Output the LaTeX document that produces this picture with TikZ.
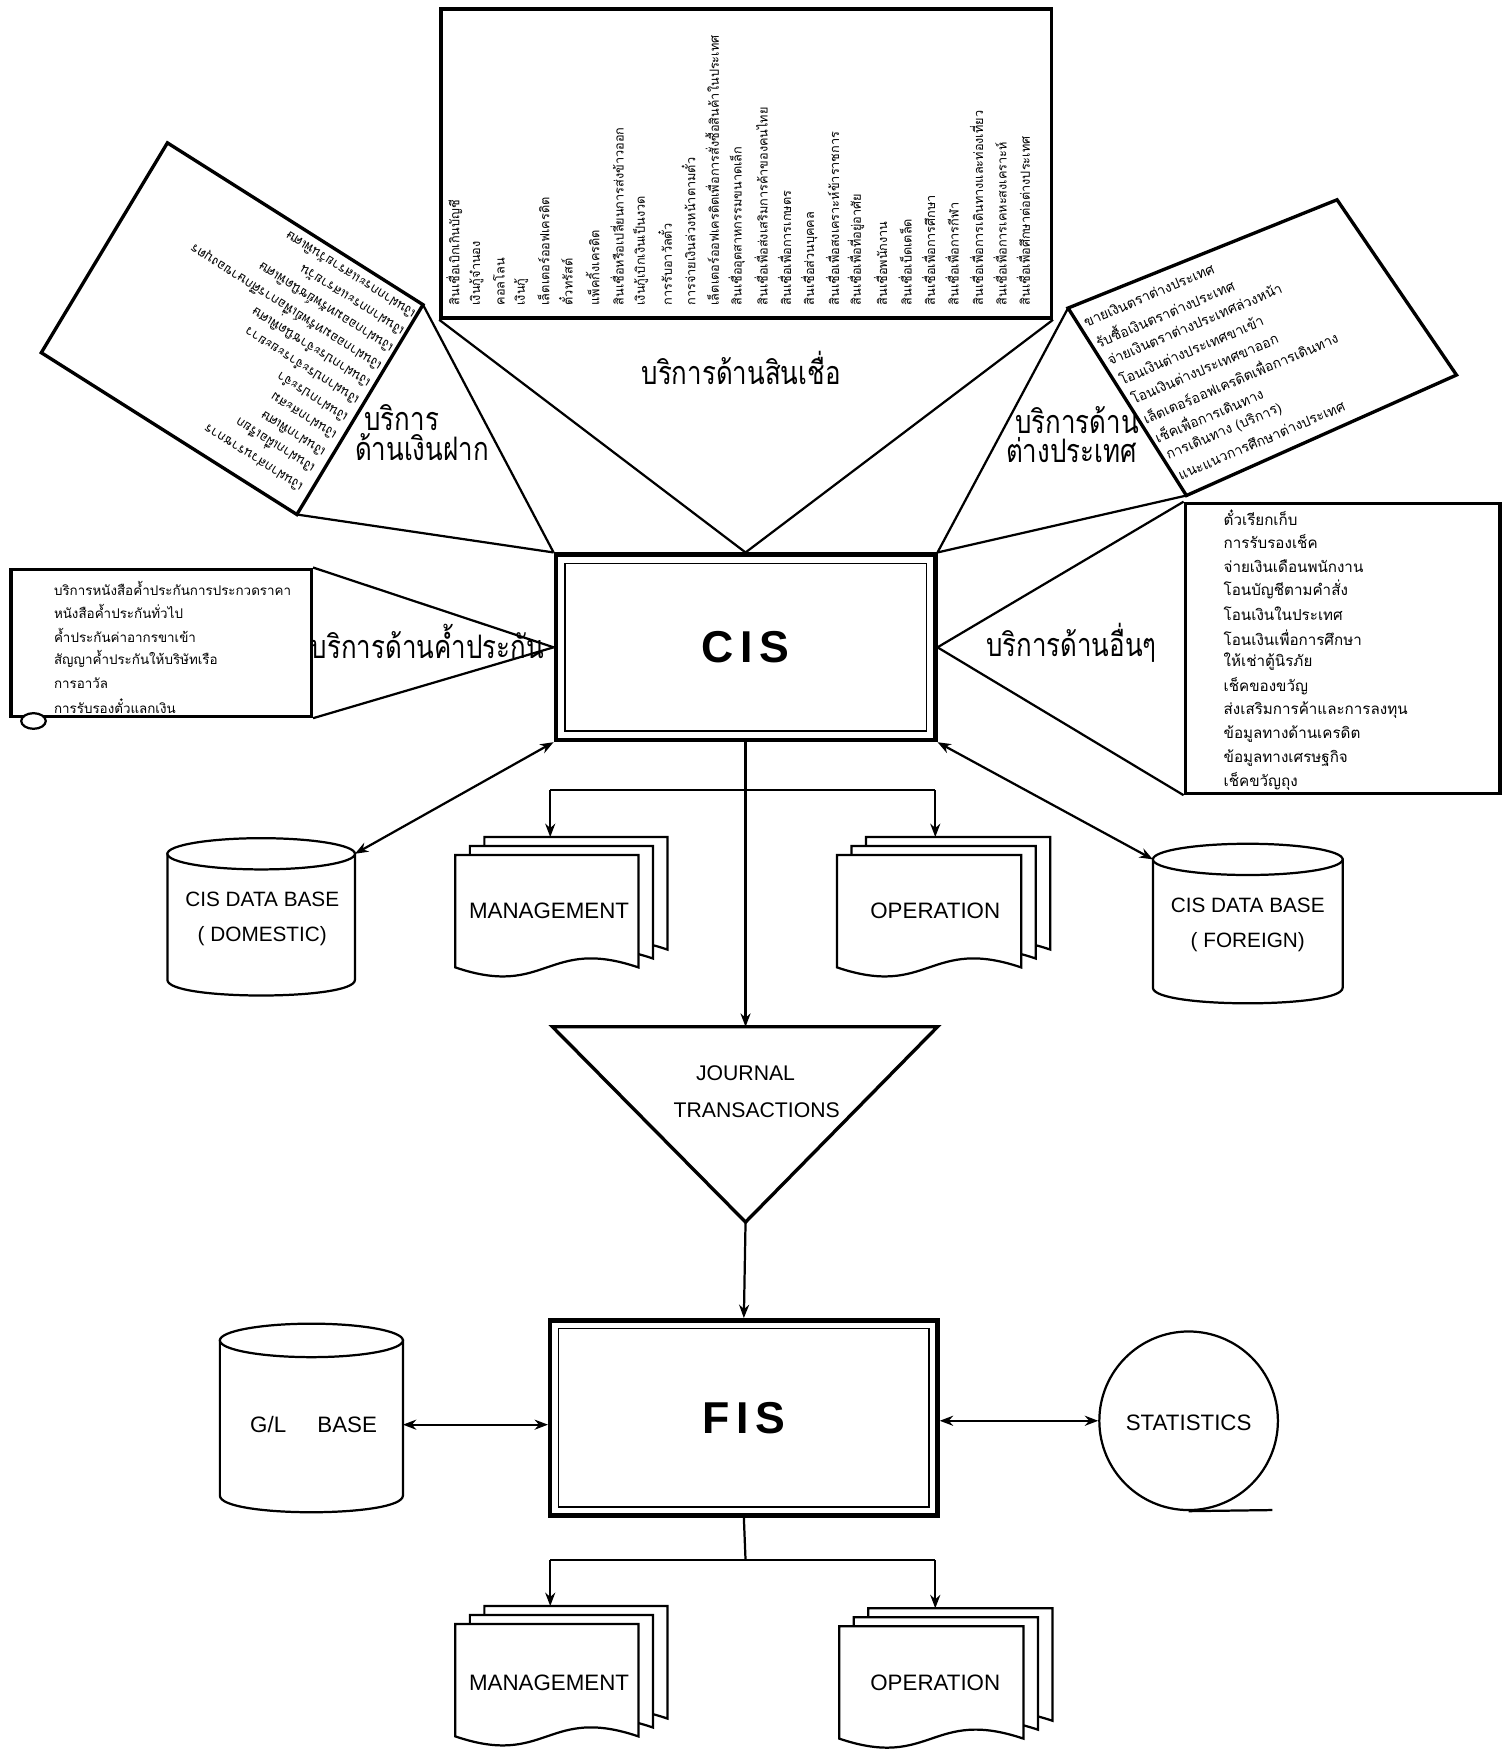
\documentclass[tikz,border=0pt]{standalone}
\usepackage{fontspec}
\usepackage{graphicx}
\setmainfont{Liberation Sans}
\newfontfamily\thai[Script=Thai]{Loma}
\usetikzlibrary{arrows.meta}
\newcommand\bigt[1]{\scalebox{0.8}[1]{#1}}
% x0, y0, w, h
\newcommand\mydocpage[4]{%
  \draw[ln, fill=white] (#1,#2) -- (#1+#3,#2) -- (#1+#3,#2+#4*0.9)
    .. controls (#1+#3*0.5,#2+#4*0.65) and (#1+#3*0.5,#2+#4*1.15) .. (#1,#2+#4*0.9) -- cycle;}
% name, x0, y0, w, h
\newcommand\mydocstack[5]{%
  \mydocpage{#2+26}{#3-16}{#4}{#5}
  \mydocpage{#2+13}{#3-8}{#4}{#5}
  \mydocpage{#2}{#3}{#4}{#5}
  \coordinate (#1) at (#2+26+#4*0.5,#3-16);}
% name, cx, top y, rx, ry, bottom y
\newcommand\mycyl[6]{%
  \draw[ln, fill=white] (#2-#4,#6) .. controls (#2-#4,#6+#5*1.33) and (#2+#4,#6+#5*1.33) .. (#2+#4,#6) -- (#2+#4,#3) -- (#2-#4,#3) -- cycle;
  \draw[ln, fill=white] (#2,#3) ellipse [x radius=#4, y radius=#5];
  \coordinate (#1tl) at (#2-#4,#3);
  \coordinate (#1tr) at (#2+#4,#3);
  \coordinate (#1r) at (#2+#4,{(#3+#6)/2+6});}
\begin{document}
\begin{tikzpicture}[x=0.5pt,y=-0.5pt,
  ln/.style={line width=1pt},
  bx/.style={line width=1.5pt},
  lst/.style={font=\thai\fontsize{6.2}{7}\selectfont, inner sep=0pt, anchor=west},
  big/.style={font=\thai\fontsize{14.5}{16}\selectfont, inner sep=0pt},
  eng/.style={font=\fontsize{10}{12}\selectfont, inner sep=0pt},
  tip/.style={-{Stealth[length=6pt,width=4.5pt]}},
  dtip/.style={{Stealth[length=6pt,width=4.5pt]}-{Stealth[length=6pt,width=4.5pt]}},
  sysbox/.style={draw, line width=2pt, inner sep=0pt},
  sysin/.style={draw, line width=0.7pt, inner sep=0pt, font=\fontsize{20}{22}\bfseries},
]
\useasboundingbox (0,0) rectangle (1346,1568);
\fill[white] (0,0) rectangle (1346,1568);

% ---------------- CIS ----------------
\node[sysbox, minimum width=170pt, minimum height=83pt] (cis) at (668,580) {};
\node[sysin, minimum width=162pt, minimum height=75pt] (cisin) at (668,580) {C\hspace{3pt}I\hspace{3pt}S};

% ---------------- top box (credit) ----------------
\node[draw, bx, minimum width=273.5pt, minimum height=138.5pt, inner sep=0pt] (topbox) at (668.5,146.5) {};
\foreach \x/\t [count=\i] in {
 407/{สินเชื่อเบิกเกินบัญชี},
 427/{เงินกู้จำนอง},
 447/{คอลโลน},
 467/{เงินกู้},
 487/{เล็ตเตอร์ออฟเครดิต},
 507/{ตั๋วทรัสต์},
 531/{แพ็คกิ้งเครดิต},
 553/{สินเชื่อหรือเปลี่ยนการส่งข้าวออก},
 574/{เงินกู้เบิกเงินเป็นงวด},
 596/{การรับอาวัลตั๋ว},
 617/{การจ่ายเงินล่วงหน้าตามตั๋ว},
 638/{เล็ตเตอร์ออฟเครดิตเพื่อการสั่งซื้อสินค้าในประเทศ},
 660/{สินเชื่ออุตสาหกรรมขนาดเล็ก},
 682/{สินเชื่อเพื่อส่งเสริมการค้าของคนไทย},
 703/{สินเชื่อเพื่อการเกษตร},
 725/{สินเชื่อส่วนบุคคล},
 746/{สินเชื่อเพื่อสงเคราะห์ข้าราชการ},
 767/{สินเชื่อเพื่อที่อยู่อาศัย},
 789/{สินเชื่อพนักงาน},
 811/{สินเชื่อเบ็ดเตล็ด},
 832/{สินเชื่อเพื่อการศึกษา},
 853/{สินเชื่อเพื่อการกีฬา},
 875/{สินเชื่อเพื่อการเดินทางและท่องเที่ยว},
 896/{สินเชื่อเพื่อการเคหะสงเคราะห์},
 917/{สินเชื่อเพื่อศึกษาต่อต่างประเทศ}}
 \node[lst, font=\thai\fontsize{5.7}{6}\selectfont, rotate=90] (cr\i) at (\x,274) {\t};
\node[big] (lcredit) at (664,330) {\bigt{บริการด้านสินเชื่อ}};
\draw[ln] (topbox.south west) -- (cis.north);
\draw[ln] (topbox.south east) -- (cis.north);

% ---------------- left rotated box (deposit) ----------------
\coordinate (dT) at (150,128);
\coordinate (dR) at (379,273);
\coordinate (dB) at (266,461);
\coordinate (dL) at (37,316);
\draw[bx, fill=white] (dT) -- (dR) -- (dB) -- (dL) -- cycle;
\foreach \t [count=\i from 0] in {
 {เงินฝากกระแสรายวันพิเศษ},
 {เงินฝากกระแสรายวัน},
 {เงินฝากออมทรัพย์ชนิดพิเศษ},
 {เงินฝากออมทรัพย์เพื่อการศึกษาของบุตร},
 {เงินฝากประจำชนิดพิเศษ},
 {เงินฝากประจำระยะยาว},
 {เงินฝากประจำ},
 {เงินฝากสะสม},
 {เงินฝากพิเศษ},
 {เงินฝากเผื่อเรียก},
 {เงินฝากส่วนราชการ}}
 \node[lst, font=\thai\fontsize{5.9}{6}\selectfont, rotate=147.7] (dp\i) at ({371-10.1*\i},{283+15.5*\i}) {\t};
\node[big] (ldep1) at (360,374) {\bigt{บริการ}};
\node[big] (ldep2) at (378,401) {\bigt{ด้านเงินฝาก}};
\draw[ln] (dR) -- (cis.north west);
\draw[ln] (dB) -- (cis.north west);

% ---------------- right rotated box (foreign) ----------------
\coordinate (fL) at (957,276);
\coordinate (fT) at (1198,179);
\coordinate (fR) at (1305,336);
\coordinate (fB) at (1063,444);
\draw[bx, fill=white] (fL) -- (fT) -- (fR) -- (fB) -- cycle;
\foreach \t [count=\i from 0] in {
 {ขายเงินตราต่างประเทศ},
 {รับซื้อเงินตราต่างประเทศ},
 {จ่ายเงินตราต่างประเทศล่วงหน้า},
 {โอนเงินต่างประเทศขาเข้า},
 {โอนเงินต่างประเทศขาออก},
 {เล็ตเตอร์ออฟเครดิตเพื่อการเดินทาง},
 {เช็คเพื่อการเดินทาง},
 {การเดินทาง (บริการ)},
 {แนะแนวการศึกษาต่างประเทศ}}
 \node[lst, font=\thai\fontsize{6.2}{7}\selectfont, rotate=23] (fx\i) at ({971+10.6*\i},{289+17.1*\i}) {\t};
\node[big] (lfor1) at (965,376) {\bigt{บริการด้าน}};
\node[big] (lfor2) at (960,403) {\bigt{ต่างประเทศ}};
\draw[ln] (fL) -- (cis.north east);
\draw[ln] (fB) -- (cis.north east);

% ---------------- guarantee box ----------------
\node[draw, bx, minimum width=134.5pt, minimum height=66pt, inner sep=0pt] (gbox) at (144.5,576) {};
\draw[ln, fill=white] (30,646) ellipse [x radius=11, y radius=7];
\foreach \t [count=\i from 0] in {
 {บริการหนังสือค้ำประกันการประกวดราคา},
 {หนังสือค้ำประกันทั่วไป},
 {ค้ำประกันค่าอากรขาเข้า},
 {สัญญาค้ำประกันให้บริษัทเรือ},
 {การอาวัล},
 {การรับรองตั๋วแลกเงิน}}
 \node[lst, font=\thai\fontsize{6}{7}\selectfont] (gt\i) at (48,{527+21.2*\i}) {\t};
\node[big] (lgua) at (383,575) {\bigt{บริการด้านค้ำประกัน}};
\draw[ln] (gbox.north east) -- (cis.west);
\draw[ln] (gbox.south east) -- (cis.west);

% ---------------- other services box ----------------
\node[draw, bx, minimum width=141pt, minimum height=130pt, inner sep=0pt] (obox) at (1203,581) {};
\foreach \t [count=\i from 0] in {
 {ตั๋วเรียกเก็บ},
 {การรับรองเช็ค},
 {จ่ายเงินเดือนพนักงาน},
 {โอนบัญชีตามคำสั่ง},
 {โอนเงินในประเทศ},
 {โอนเงินเพื่อการศึกษา},
 {ให้เช่าตู้นิรภัย},
 {เช็คของขวัญ},
 {ส่งเสริมการค้าและการลงทุน},
 {ข้อมูลทางด้านเครดิต},
 {ข้อมูลทางเศรษฐกิจ},
 {เช็คขวัญถุง}}
 \node[lst, font=\thai\fontsize{6.8}{7}\selectfont] (ot\i) at (1096,{464+21.5*\i}) {\t};
\node[big] (loth) at (960,576) {\bigt{บริการด้านอื่นๆ}};
\draw[ln] (obox.north west) -- (cis.east);
\draw[ln] (obox.south west) -- (cis.east);

% ---------------- databases and reports under CIS ----------------
\mycyl{dbd}{234}{765}{84}{14}{878}
\node[eng, font=\fontsize{9.3}{11}\selectfont] (dbdt1) at (235,806) {CIS DATA BASE};
\node[eng, font=\fontsize{9.3}{11}\selectfont] (dbdt2) at (235,839) {( DOMESTIC)};
\mycyl{dbf}{1118}{770}{85}{14}{885}
\node[eng, font=\fontsize{9.3}{11}\selectfont] (dbft1) at (1118,811) {CIS DATA BASE};
\node[eng, font=\fontsize{9.3}{11}\selectfont] (dbft2) at (1118,844) {( FOREIGN)};

\mydocstack{mg1}{408}{766}{164}{112}
\node[eng] (mg1t) at (492,816) {MANAGEMENT};
\mydocstack{op1}{750}{766}{165}{112}
\node[eng] (op1t) at (838,816) {OPERATION};

\draw[dtip, ln] (cis.south west) -- (dbdtr);
\draw[dtip, ln] (cis.south east) -- (dbftl);
\coordinate (j1) at (668,708);
\coordinate (j1l) at (493,708);
\coordinate (j1r) at (838,708);
\draw[ln] (j1l) -- (j1r);
\draw[ln, tip] (j1l) -- (493,750);
\draw[ln, tip] (j1r) -- (838,750);

% ---------------- journal transactions ----------------
\coordinate (trT) at (668,920);
\coordinate (trL) at (495,920);
\coordinate (trR) at (840,920);
\coordinate (trB) at (668,1095);
\draw[bx] (trL) -- (trR) -- (trB) -- cycle;
\node[eng, font=\fontsize{9.5}{11}\selectfont] (jt1) at (668,962) {JOURNAL};
\node[eng, font=\fontsize{9.5}{11}\selectfont] (jt2) at (678,995) {TRANSACTIONS};
\draw[ln, tip] (cis.south) -- (trT);

% ---------------- FIS ----------------
\node[sysbox, minimum width=173.5pt, minimum height=87.5pt] (fis) at (666.5,1270.5) {};
\node[sysin, minimum width=166pt, minimum height=80pt] (fisin) at (666.5,1270.5) {F\hspace{3pt}I\hspace{3pt}S};
\draw[ln, tip] (trB) -- (fis.north);

\mycyl{gl}{279}{1201}{82}{15}{1340}
\node[eng] (glt) at (281,1276) {G/L\hspace{14pt}BASE};
\draw[dtip, ln] (glr) -- (fis.west |- glr);

\node[draw, ln, circle, minimum size=80pt, inner sep=0pt] (stat) at (1065,1273) {};
\draw[ln] (stat.south) -- (1140,1353);
\node[eng] (statt) at (1065,1275) {STATISTICS};
\draw[dtip, ln] (fis.east |- stat.west) -- (stat.west);

\coordinate (j2) at (668,1398);
\coordinate (j2l) at (493,1398);
\coordinate (j2r) at (838,1398);
\draw[ln] (fis.south) -- (j2);
\draw[ln] (j2l) -- (j2r);
\mydocstack{mg2}{408}{1455}{164}{112}
\node[eng] (mg2t) at (492,1508) {MANAGEMENT};
\mydocstack{op2}{752}{1457}{165}{112}
\node[eng] (op2t) at (838,1508) {OPERATION};
\draw[ln, tip] (j2l) -- (493,1439);
\draw[ln, tip] (j2r) -- (838,1441);
\end{tikzpicture}
\end{document}
